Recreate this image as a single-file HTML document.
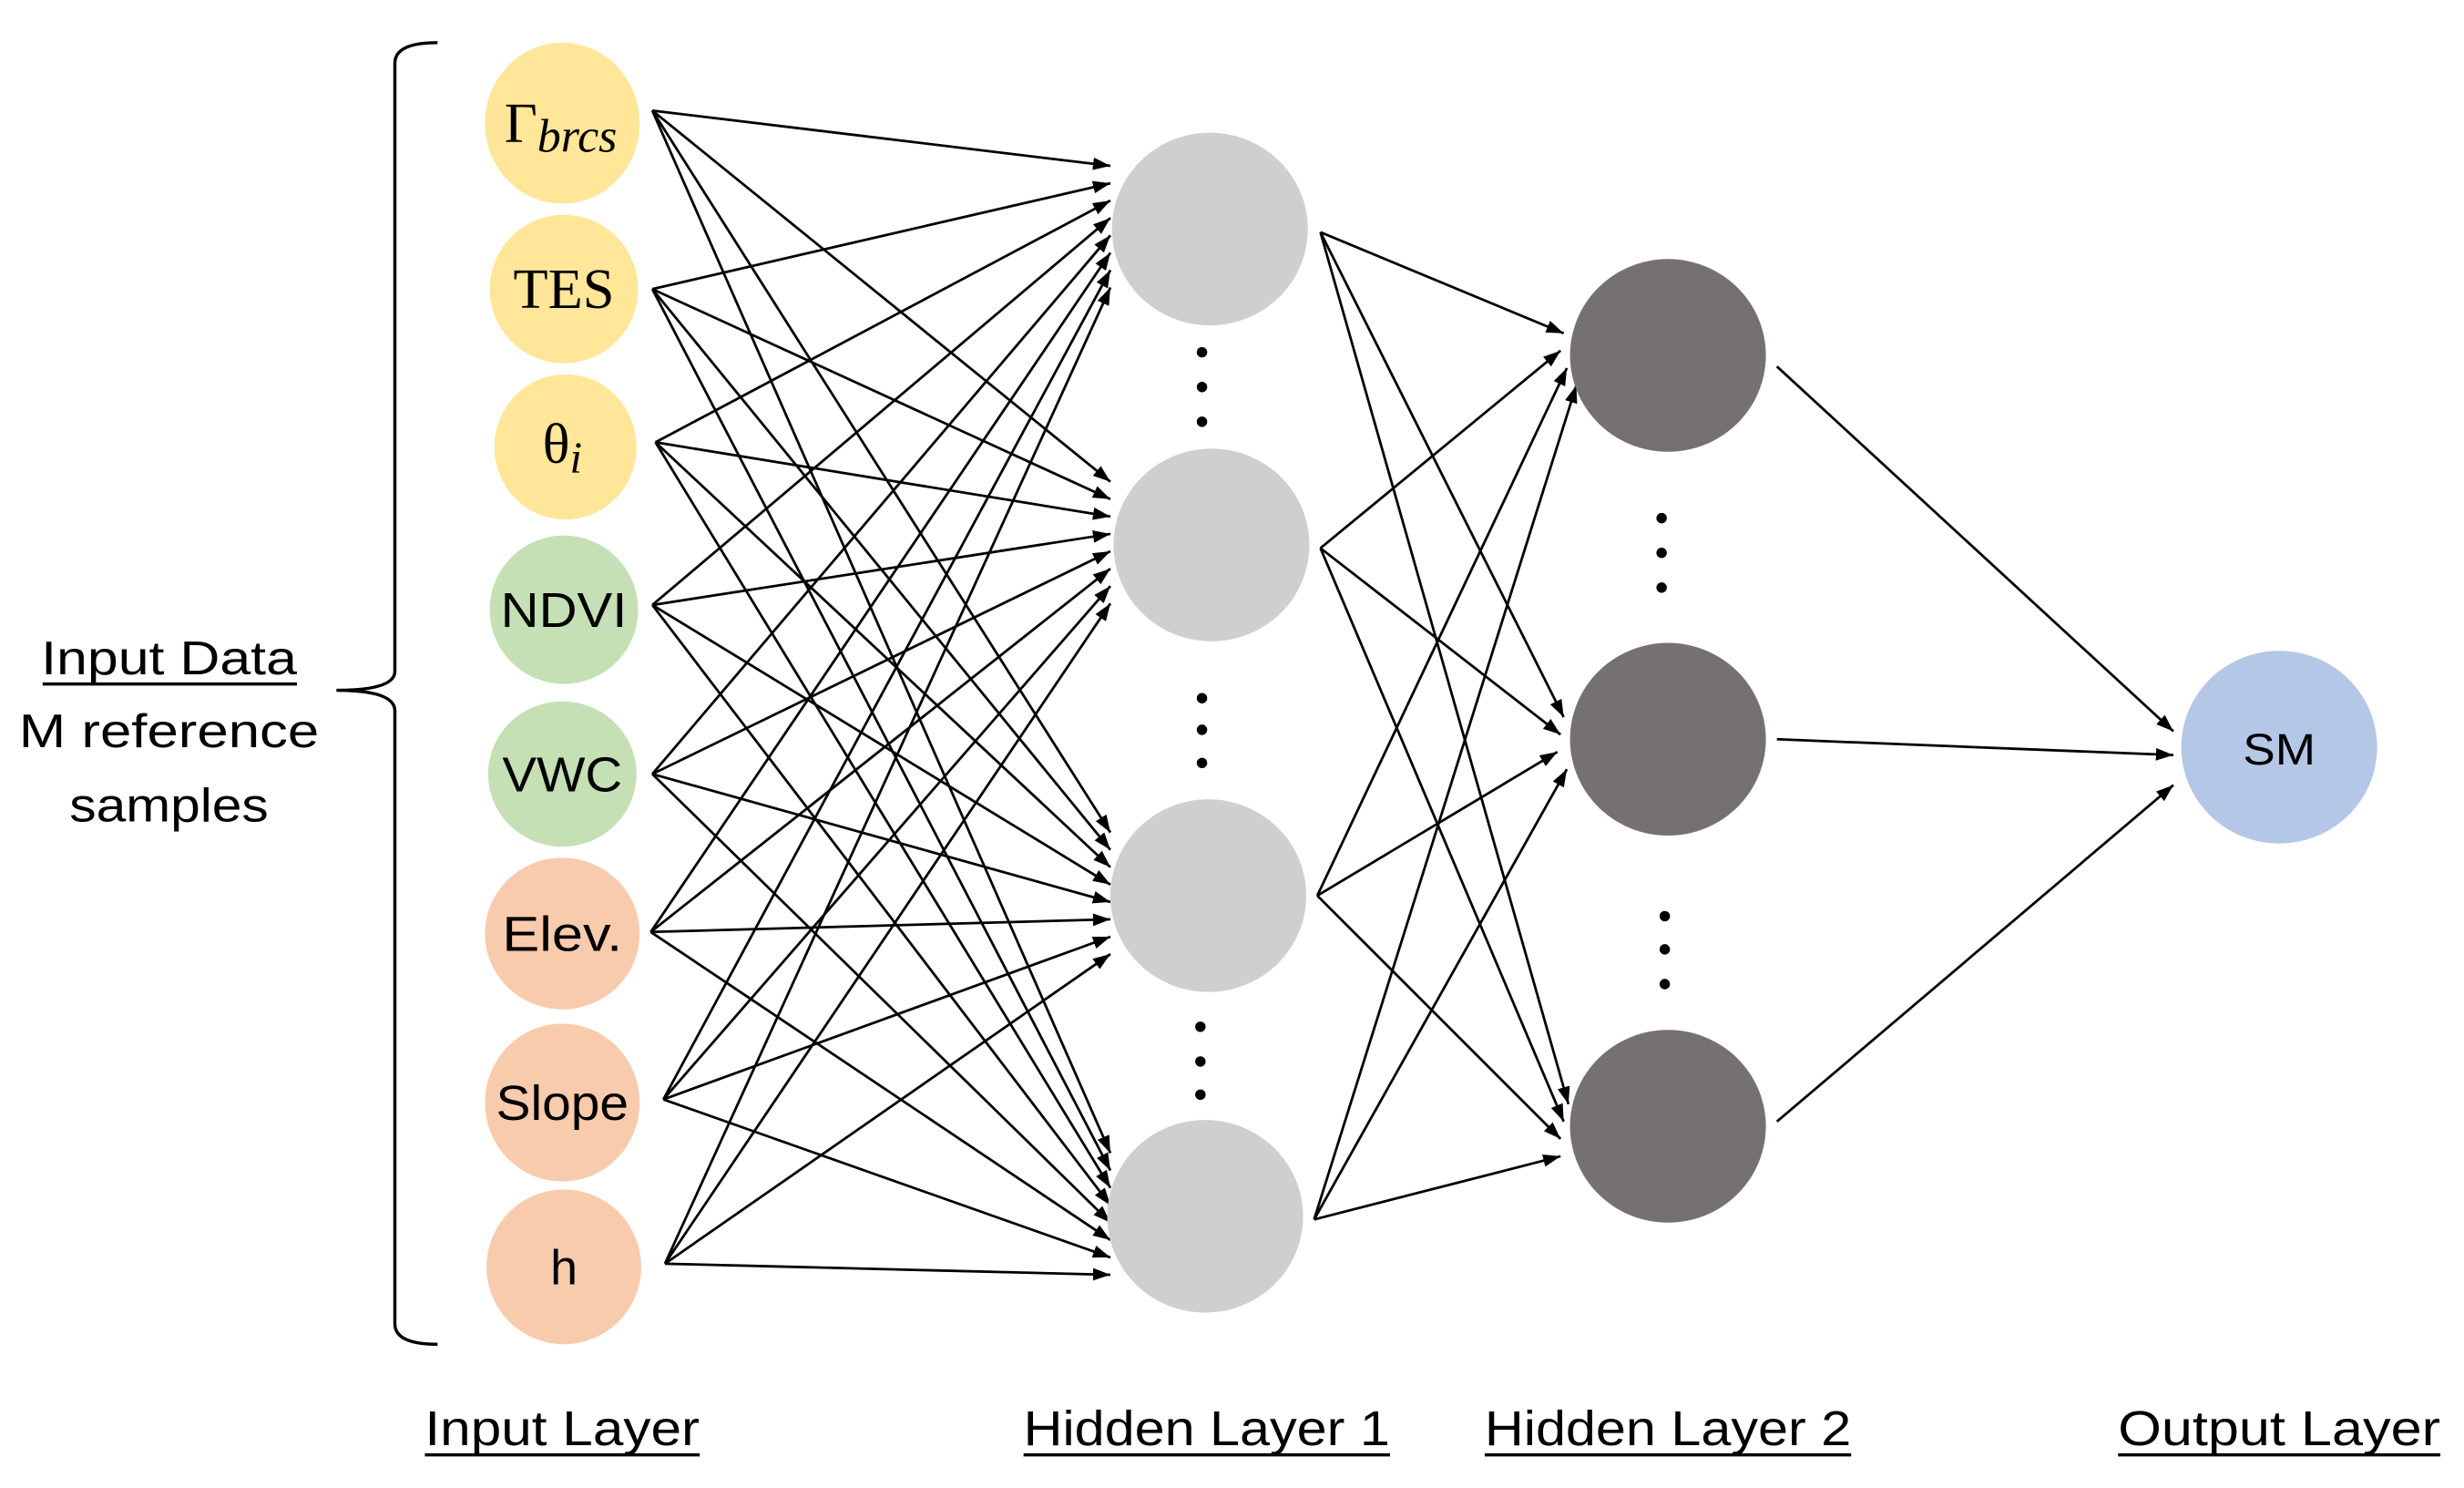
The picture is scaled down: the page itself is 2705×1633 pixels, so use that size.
<!DOCTYPE html>
<html><head><meta charset="utf-8"><style>
html,body{margin:0;padding:0;background:#fff;}
svg{display:block;}
</style></head><body>
<svg width="2705" height="1633" viewBox="0 0 1560 942" preserveAspectRatio="none" xmlns="http://www.w3.org/2000/svg">
<defs>
<marker id="a" markerUnits="userSpaceOnUse" markerWidth="12" markerHeight="8" refX="11" refY="4" orient="auto">
<path d="M0,0 L11,4 L0,8 Z" fill="#000"/>
</marker>
</defs>
<!-- brace -->
<path d="M277,27 Q250,27 250,40 L250,425 Q250,437 213,437 Q250,437 250,450 L250,838 Q250,851 277,851" fill="none" stroke="#000" stroke-width="2"/>
<!-- input to hidden1 -->
<g stroke="#000" stroke-width="1.6" marker-end="url(#a)">
<line x1="413" y1="70" x2="703" y2="105"/><line x1="413" y1="70" x2="703" y2="305"/><line x1="413" y1="70" x2="703" y2="527"/><line x1="413" y1="70" x2="703" y2="730"/>
<line x1="413" y1="183" x2="703" y2="116"/><line x1="413" y1="183" x2="703" y2="316"/><line x1="413" y1="183" x2="703" y2="538"/><line x1="413" y1="183" x2="703" y2="741"/>
<line x1="415" y1="280" x2="703" y2="127"/><line x1="415" y1="280" x2="703" y2="327"/><line x1="415" y1="280" x2="703" y2="549"/><line x1="415" y1="280" x2="703" y2="752"/>
<line x1="413" y1="383" x2="703" y2="138"/><line x1="413" y1="383" x2="703" y2="338"/><line x1="413" y1="383" x2="703" y2="560"/><line x1="413" y1="383" x2="703" y2="763"/>
<line x1="413" y1="490" x2="703" y2="149"/><line x1="413" y1="490" x2="703" y2="349"/><line x1="413" y1="490" x2="703" y2="571"/><line x1="413" y1="490" x2="703" y2="774"/>
<line x1="412" y1="590" x2="703" y2="160"/><line x1="412" y1="590" x2="703" y2="360"/><line x1="412" y1="590" x2="703" y2="582"/><line x1="412" y1="590" x2="703" y2="785"/>
<line x1="420" y1="696" x2="703" y2="171"/><line x1="420" y1="696" x2="703" y2="371"/><line x1="420" y1="696" x2="703" y2="593"/><line x1="420" y1="696" x2="703" y2="796"/>
<line x1="421" y1="800" x2="703" y2="182"/><line x1="421" y1="800" x2="703" y2="382"/><line x1="421" y1="800" x2="703" y2="604"/><line x1="421" y1="800" x2="703" y2="807"/>
</g>
<!-- hidden1 to hidden2 -->
<g stroke="#000" stroke-width="1.6" marker-end="url(#a)">
<line x1="836" y1="147" x2="990" y2="211"/><line x1="836" y1="147" x2="990" y2="454"/><line x1="836" y1="147" x2="993" y2="699"/>
<line x1="836" y1="347" x2="988" y2="222"/><line x1="836" y1="347" x2="988" y2="465"/><line x1="836" y1="347" x2="990" y2="710"/>
<line x1="834" y1="567" x2="992" y2="233"/><line x1="834" y1="567" x2="986" y2="476"/><line x1="834" y1="567" x2="988" y2="721"/>
<line x1="832" y1="772" x2="998" y2="244"/><line x1="832" y1="772" x2="992" y2="487"/><line x1="832" y1="772" x2="988" y2="732"/>
</g>
<!-- hidden2 to output -->
<g stroke="#000" stroke-width="1.6" marker-end="url(#a)">
<line x1="1125" y1="232" x2="1376" y2="463"/>
<line x1="1125" y1="468" x2="1376" y2="478"/>
<line x1="1125" y1="710" x2="1376" y2="497"/>
</g>
<!-- input nodes -->
<g>
<ellipse cx="356" cy="78" rx="49" ry="51" fill="#FFE699"/>
<ellipse cx="357" cy="183" rx="47" ry="47" fill="#FFE699"/>
<ellipse cx="358" cy="283" rx="45" ry="46" fill="#FFE699"/>
<ellipse cx="357" cy="386" rx="47" ry="47" fill="#C5E0B4"/>
<ellipse cx="356" cy="490" rx="47" ry="46" fill="#C5E0B4"/>
<ellipse cx="356" cy="591" rx="49" ry="48" fill="#F8CBAD"/>
<ellipse cx="356" cy="698" rx="49" ry="50" fill="#F8CBAD"/>
<ellipse cx="357" cy="802" rx="49" ry="49" fill="#F8CBAD"/>
</g>
<!-- hidden1 -->
<g fill="#D0CECE">
<ellipse cx="766" cy="145" rx="62" ry="61"/>
<ellipse cx="767" cy="345" rx="62" ry="61"/>
<ellipse cx="765" cy="567" rx="62" ry="61"/>
<ellipse cx="763" cy="770" rx="62" ry="61"/>
</g>
<!-- hidden2 -->
<g fill="#767171">
<ellipse cx="1056" cy="225" rx="62" ry="61"/>
<ellipse cx="1056" cy="468" rx="62" ry="61"/>
<ellipse cx="1056" cy="713" rx="62" ry="61"/>
</g>
<ellipse cx="1443" cy="473" rx="62" ry="61" fill="#B4C7E7"/>
<!-- dots -->
<g fill="#000">
<circle cx="761" cy="223" r="3.3"/><circle cx="761" cy="245" r="3.3"/><circle cx="761" cy="267" r="3.3"/>
<circle cx="761" cy="442" r="3.3"/><circle cx="761" cy="462" r="3.3"/><circle cx="761" cy="483" r="3.3"/>
<circle cx="760" cy="650" r="3.3"/><circle cx="760" cy="672" r="3.3"/><circle cx="760" cy="693" r="3.3"/>
<circle cx="1052" cy="328" r="3.3"/><circle cx="1052" cy="350" r="3.3"/><circle cx="1052" cy="372" r="3.3"/>
<circle cx="1054" cy="580" r="3.3"/><circle cx="1054" cy="601" r="3.3"/><circle cx="1054" cy="623" r="3.3"/>
</g>
<!-- node labels -->
<g text-anchor="middle" fill="#000">
<text x="355" y="90" font-family="Liberation Serif, serif" font-size="36">Γ<tspan font-style="italic" font-size="30" dy="6">brcs</tspan></text>
<text x="357" y="195" font-family="Liberation Serif, serif" font-size="36">TES</text>
<text x="356" y="293" font-family="Liberation Serif, serif" font-size="36">θ<tspan font-style="italic" font-size="28" dy="6">i</tspan></text>
<text x="357" y="397" font-family="Liberation Sans, sans-serif" font-size="31" textLength="80" lengthAdjust="spacingAndGlyphs">NDVI</text>
<text x="356" y="501" font-family="Liberation Sans, sans-serif" font-size="31" textLength="76" lengthAdjust="spacingAndGlyphs">VWC</text>
<text x="356" y="602" font-family="Liberation Sans, sans-serif" font-size="31" textLength="76" lengthAdjust="spacingAndGlyphs">Elev.</text>
<text x="356" y="709" font-family="Liberation Sans, sans-serif" font-size="31" textLength="84" lengthAdjust="spacingAndGlyphs">Slope</text>
<text x="357" y="813" font-family="Liberation Sans, sans-serif" font-size="31">h</text>
<text x="1443" y="484" font-family="Liberation Sans, sans-serif" font-size="28" textLength="46" lengthAdjust="spacingAndGlyphs">SM</text>
</g>
<!-- side label -->
<g text-anchor="middle" font-family="Liberation Sans, sans-serif" font-size="30" fill="#000">
<text x="107" y="427" textLength="162" lengthAdjust="spacingAndGlyphs">Input Data</text>
<line x1="27" y1="433" x2="188" y2="433" stroke="#000" stroke-width="2"/>
<text x="107" y="473" textLength="190" lengthAdjust="spacingAndGlyphs">M reference</text>
<text x="107" y="520" textLength="126" lengthAdjust="spacingAndGlyphs">samples</text>
</g>
<!-- bottom labels -->
<g text-anchor="middle" font-family="Liberation Sans, sans-serif" font-size="31" fill="#000">
<text x="356" y="915" textLength="174" lengthAdjust="spacingAndGlyphs">Input Layer</text>
<line x1="269" y1="921" x2="443" y2="921" stroke="#000" stroke-width="2"/>
<text x="764" y="915" textLength="232" lengthAdjust="spacingAndGlyphs">Hidden Layer 1</text>
<line x1="648" y1="921" x2="880" y2="921" stroke="#000" stroke-width="2"/>
<text x="1056" y="915" textLength="232" lengthAdjust="spacingAndGlyphs">Hidden Layer 2</text>
<line x1="940" y1="921" x2="1172" y2="921" stroke="#000" stroke-width="2"/>
<text x="1443" y="915" textLength="204" lengthAdjust="spacingAndGlyphs">Output Layer</text>
<line x1="1341" y1="921" x2="1545" y2="921" stroke="#000" stroke-width="2"/>
</g>
</svg>
</body></html>
